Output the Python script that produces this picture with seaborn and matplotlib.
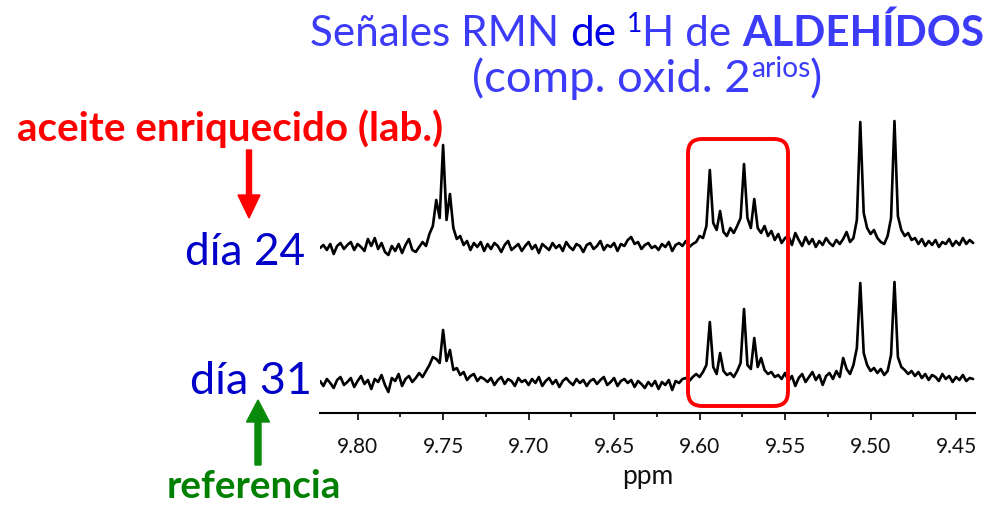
import numpy as np
import pandas as pd
import matplotlib
matplotlib.use("Agg")
import matplotlib.pyplot as plt
import seaborn as sns
from matplotlib.patches import FancyBboxPatch, FancyArrow
from matplotlib.transforms import IdentityTransform
from matplotlib.ticker import MultipleLocator, FormatStrFormatter

# ---------------- data ----------------
ppm_first = 9.822
ppm_step = 0.002
tick_labels = ["9.80", "9.75", "9.70", "9.65", "9.60", "9.55", "9.50", "9.45"]
trace_names = ["día 24", "día 31"]

# upper spectrum (día 24), intensity above its own baseline
day24 = [0, 3, -2, 4, -6, 2, 5, -1, 3, 6,
         -2, 4, 1, -3, 9, 2, 10, -1, 5, -4,
         -7, 2, -3, 4, -5, 3, 9, -2, -4, 1,
         6, 2, 14, 22, 48, 30, 103, 28, 54, 20,
         9, 12, 3, 7, -2, 5, 1, 6, -3, 4,
         -1, 5, 2, -4, 3, 7, -2, 1, 4, -3,
         2, 6, -1, 3, -5, 4, 1, -2, 5, 0,
         3, -3, 6, 1, -2, 4, 2, -4, 3, 5,
         -1, 2, 7, -2, 3, 1, 5, -3, 4, 2,
         8, 11, 4, 6, -1, 3, 5, 0, 2, -2,
         4, 1, 6, -3, 3, 5, 2, 7, 1, 4,
         6, 12, 10, 22, 78, 25, 18, 37, 16, 12,
         20, 15, 22, 30, 84, 30, 20, 49, 20, 15,
         22, 12, 17, 8, 14, 5, 10, 12, 3, 15,
         8, 2, 11, 4, 9, 1, 7, 3, 10, 5,
         2, 8, 4, 9, 16, 6, 10, 28, 126, 35,
         20, 14, 18, 10, 6, 4, 12, 30, 127, 32,
         18, 12, 15, 8, 10, 4, 9, 2, 7, 3,
         8, 1, 6, 4, 9, 2, 7, 3, 10, 4, 8, 5]

# lower spectrum (día 31)
day31 = [2, -3, 4, 0, -5, 3, 6, -2, 1, 5,
         -4, 2, 7, -1, 3, -6, 4, 1, 8, -2,
         -9, 5, 2, 9, -3, 4, 7, 1, 5, 10,
         6, 12, 18, 26, 24, 20, 53, 22, 33, 13,
         15, 8, 11, 3, 7, 9, 2, 6, 4, 1,
         5, -2, 3, 6, -1, 4, 2, -3, 5, 1,
         3, -2, 4, 0, 6, -3, 2, 5, -1, 3,
         -4, 2, 5, 1, -2, 4, 0, 3, -3, 2,
         4, -1, 3, 6, -2, 1, 5, -3, 2, 4,
         0, 3, -4, 2, -1, -5, 1, -3, 2, -6,
         1, -2, 3, -7, 2, 0, 4, 5, 2, 6,
         9, 6, 11, 18, 61, 16, 9, 30, 12, 8,
         10, 6, 12, 20, 74, 18, 14, 45, 16, 25,
         13, 9, 11, 6, 8, 4, 10, 2, 7, -3,
         5, 9, 1, 6, 11, 3, 8, -2, 7, 10,
         4, 12, 6, 25, 14, 9, 18, 35, 100, 30,
         18, 12, 15, 10, 14, 8, 12, 28, 101, 26,
         16, 13, 9, 12, 7, 11, 5, 9, 3, 8,
         6, 2, 9, 4, 7, 1, 6, 3, 8, 2, 5, 4]

ppm = np.round(ppm_first - ppm_step * np.arange(len(day24)), 3)

# ---------------- figure ----------------
sns.set_theme(style="white")
plt.rcParams["font.family"] = ["Lato", "DejaVu Sans"]

W, H = 992, 505
fig = plt.figure(figsize=(W / 100, H / 100), dpi=100)
rend = fig.canvas.get_renderer()


def fx(x):
    return x / W


def fy(y):
    return 1 - y / H


offset_top = 135
df = pd.concat([
    pd.DataFrame({"ppm": ppm, "y": np.array(day24) + offset_top, "trace": trace_names[0]}),
    pd.DataFrame({"ppm": ppm, "y": np.array(day31), "trace": trace_names[1]}),
])

ax_bot, ax_top = 413, 105
ax = fig.add_axes([fx(320), fy(ax_bot), (975 - 320) / W, (ax_bot - ax_top) / H])
ax.patch.set_alpha(0)
sns.lineplot(data=df, x="ppm", y="y", units="trace", estimator=None, sort=False,
             color="black", lw=1.9, ax=ax, legend=False)
ax.set_xlim(9.822, 9.4389)
ax.set_ylim(383 - ax_bot, 383 - ax_top)
for s in ["top", "left", "right"]:
    ax.spines[s].set_visible(False)
ax.spines["bottom"].set_color("black")
ax.spines["bottom"].set_linewidth(1.5)
ax.set_yticks([])
ax.set_ylabel("")
ax.xaxis.set_major_locator(MultipleLocator(0.05))
ax.xaxis.set_minor_locator(MultipleLocator(0.025))
ax.xaxis.set_major_formatter(FormatStrFormatter("%.2f"))
ax.tick_params(axis="x", which="major", direction="out", length=5, width=1.2,
               color="black", labelsize=15, pad=12, labelcolor="#111111", bottom=True)
ax.tick_params(axis="x", which="minor", direction="out", length=3, width=1.2,
               color="black", bottom=True)
ax.set_xlabel("ppm", fontsize=19, color="#111111", labelpad=5)


# ---------------- text helpers ----------------
def measure(s, size, weight):
    t = fig.text(0, 0, s, fontsize=size, fontweight=weight)
    w = t.get_window_extent(renderer=rend).width
    t.remove()
    return w


def runs(pieces, x0, x1, yb, f):
    for _ in range(2):
        sp = measure("a a", f, "normal") - measure("aa", f, "normal")
        total = 0
        for p in pieces:
            total += measure(p["s"], f * p.get("sf", 1), p.get("w", "normal"))
            if p.get("gap"):
                total += sp
        f *= (x1 - x0) / total
    sp = measure("a a", f, "normal") - measure("aa", f, "normal")
    x = x0
    for p in pieces:
        if p.get("gap"):
            x += sp
        rise = p.get("rise", 0) * f * 100 / 72
        t = fig.text(fx(x), fy(yb - rise), p["s"], fontsize=f * p.get("sf", 1),
                     fontweight=p.get("w", "normal"), color=p["c"],
                     ha="left", va="baseline")
        x += t.get_window_extent(renderer=rend).width
    return f


light = "#3c3cf8"
dark = "#0000e6"
runs([{"s": "Señales RMN", "c": light},
      {"s": "de", "c": dark, "gap": True},
      {"s": "1", "c": dark, "gap": True, "sf": 0.62, "rise": 0.34},
      {"s": "H de", "c": light},
      {"s": "ALDEHÍDOS", "c": light, "w": "bold", "gap": True}],
     310, 985, 46, 28)
runs([{"s": "(comp. oxid. 2", "c": light},
      {"s": "arios", "c": light, "sf": 0.62, "rise": 0.34},
      {"s": ")", "c": light}],
     472, 822, 92, 28)

runs([{"s": "aceite enriquecido (lab.)", "c": "#ff0000", "w": "bold"}], 17, 443, 141, 24)
runs([{"s": "día 24", "c": "#0000c8"}], 185, 305, 265, 30)
runs([{"s": "día 31", "c": "#0000c8"}], 190, 312, 394, 30)
runs([{"s": "referencia", "c": "#008000", "w": "bold"}], 167, 342, 498, 24)

# arrows (pixel coordinates)
fig.patches.append(FancyArrow(249, H - 150, 0, -68, width=5, head_width=22, head_length=23,
                              length_includes_head=True, color="#ff0000",
                              transform=IdentityTransform(), figure=fig))
fig.patches.append(FancyArrow(258, H - 465, 0, 65, width=6, head_width=23, head_length=22,
                              length_includes_head=True, color="#0a8a0a",
                              transform=IdentityTransform(), figure=fig))

# highlight box
fig.patches.append(FancyBboxPatch((688, H - 406), 100, 267,
                                  boxstyle="round,pad=0,rounding_size=14",
                                  fill=False, edgecolor="#ff0000", lw=2.8,
                                  transform=IdentityTransform(), figure=fig))

fig.savefig("out.png", dpi=100)
